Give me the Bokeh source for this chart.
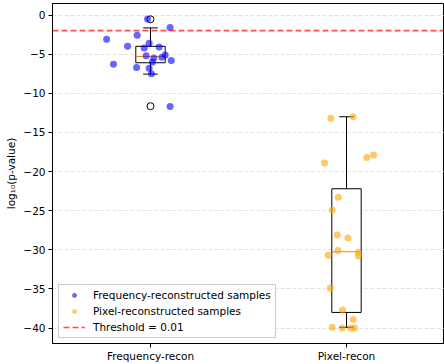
import numpy as np
from bokeh.plotting import figure
from bokeh.models import Range1d, FixedTicker, Legend, LegendItem
from bokeh.embed import file_html
from bokeh.resources import INLINE

# ---- data ----
categories = ["Frequency-recon", "Pixel-recon"]
positions = [1, 2]

freq_x = [0.985, 1.10, 0.776, 0.932, 0.883, 0.993, 0.968, 1.044, 0.978, 1.017,
          1.075, 1.058, 1.106, 1.010, 0.811, 0.929, 0.993, 1.005, 1.10]
freq_y = [-0.5, -1.6, -3.1, -2.6, -4.0, -3.6, -4.2, -4.1, -5.2, -5.5,
          -5.1, -5.4, -5.8, -6.0, -6.3, -6.7, -6.8, -7.5, -11.7]

pix_x = [1.920, 2.034, 1.888, 2.104, 2.138, 1.958, 1.927, 1.953, 2.007, 1.956,
         1.907, 2.060, 2.061, 1.917, 1.980, 2.034, 1.927, 1.978, 2.022, 2.041]
pix_y = [-13.2, -13.0, -18.9, -18.2, -17.9, -23.3, -24.9, -28.1, -28.5, -30.1,
         -30.7, -30.3, -30.8, -34.9, -37.7, -38.9, -39.9, -40.0, -40.0, -40.0]

box_q1 = [-6.1, -38.0]
box_med = [-5.3, -30.25]
box_q3 = [-4.0, -22.2]
whisk_lo = [-7.55, -39.9]
whisk_hi = [-1.65, -13.0]
outlier_x = [1, 1]
outlier_y = [-0.55, -11.65]

threshold = 0.01
y_ticks = [0, -5, -10, -15, -20, -25, -30, -35, -40]

# ---- styling constants ----
FONT = "DejaVu Sans"
FS = "10.5px"
BOX_W = 0.15
X_LO, X_HI = 0.5, 2.5
Y_LO, Y_HI = -41.97, 1.47

p = figure(width=444, height=364, output_backend="svg", toolbar_location=None,
           x_range=Range1d(X_LO, X_HI), y_range=Range1d(Y_LO, Y_HI),
           min_border_left=52, min_border_right=0, min_border_top=3,
           min_border_bottom=18)
p.background_fill_color = "white"
p.border_fill_color = "white"
p.outline_line_color = "black"
p.outline_line_width = 1
p.outline_line_alpha = 1

pos = np.array(positions, dtype=float)
lefts = pos - BOX_W / 2
rights = pos + BOX_W / 2

# boxes
p.quad(left=lefts, right=rights, top=box_q3, bottom=box_q1,
       fill_color="white", line_color="black", line_width=1)
# whiskers
p.segment(x0=pos, y0=box_q3, x1=pos, y1=whisk_hi, line_color="black", line_width=1)
p.segment(x0=pos, y0=box_q1, x1=pos, y1=whisk_lo, line_color="black", line_width=1)
# caps
p.segment(x0=pos - BOX_W / 4, y0=whisk_hi, x1=pos + BOX_W / 4, y1=whisk_hi,
          line_color="black", line_width=1)
p.segment(x0=pos - BOX_W / 4, y0=whisk_lo, x1=pos + BOX_W / 4, y1=whisk_lo,
          line_color="black", line_width=1)
# medians
p.segment(x0=lefts, y0=box_med, x1=rights, y1=box_med, line_color="#ff7f0e", line_width=1)
# fliers
p.scatter(x=outlier_x, y=outlier_y, marker="circle", size=7, fill_color=None,
          line_color="black", line_width=1)

# samples
r_freq = p.scatter(x=freq_x, y=freq_y, marker="circle", size=7,
                   fill_color="blue", fill_alpha=0.6, line_color=None)
r_pix = p.scatter(x=pix_x, y=pix_y, marker="circle", size=7,
                  fill_color="orange", fill_alpha=0.6, line_color=None)

# threshold
thr_y = float(np.log10(threshold))
r_thr = p.line(x=[X_LO, X_HI], y=[thr_y, thr_y], line_color="red", line_alpha=0.7,
               line_dash="6 3", line_width=1.6)

# axes
p.xaxis.ticker = FixedTicker(ticks=positions)
p.xaxis.major_label_overrides = {pv: c for pv, c in zip(positions, categories)}
p.yaxis.ticker = FixedTicker(ticks=y_ticks)
p.yaxis.major_label_overrides = {t: str(t).replace("-", "\u2212") for t in y_ticks}
p.yaxis.axis_label = "log\u2081\u2080(p-value)"

for ax in (p.xaxis[0], p.yaxis[0]):
    ax.axis_line_color = "black"
    ax.major_tick_line_color = "black"
    ax.major_tick_out = 4
    ax.major_tick_in = 0
    ax.minor_tick_line_color = None
    ax.major_label_text_font = FONT
    ax.major_label_text_font_size = FS
    ax.major_label_text_color = "black"
    ax.axis_label_text_font = FONT
    ax.axis_label_text_font_size = FS
    ax.axis_label_text_font_style = "normal"
    ax.axis_label_text_color = "black"
    ax.major_label_standoff = 3
p.yaxis.axis_label_standoff = 3
p.xaxis.major_label_standoff = 2

p.xgrid.visible = False
p.ygrid.grid_line_color = "#cccccc"
p.ygrid.grid_line_alpha = 0.7
p.ygrid.grid_line_dash = "4 2"
p.ygrid.grid_line_width = 0.8

legend = Legend(items=[
    LegendItem(label="Frequency-reconstructed samples", renderers=[r_freq]),
    LegendItem(label="Pixel-reconstructed samples", renderers=[r_pix]),
    LegendItem(label="Threshold = 0.01", renderers=[r_thr]),
], location=(6, 5))
legend.label_text_font = FONT
legend.label_text_font_size = FS
legend.label_text_color = "black"
legend.border_line_color = "#cccccc"
legend.border_line_alpha = 1
legend.background_fill_alpha = 0.8
legend.glyph_width = 22
legend.glyph_height = 12
legend.label_height = 12
legend.label_standoff = 8
legend.spacing = 4
legend.padding = 4
legend.margin = 0
p.add_layout(legend)

open("out.html", "w").write(file_html(p, INLINE))
